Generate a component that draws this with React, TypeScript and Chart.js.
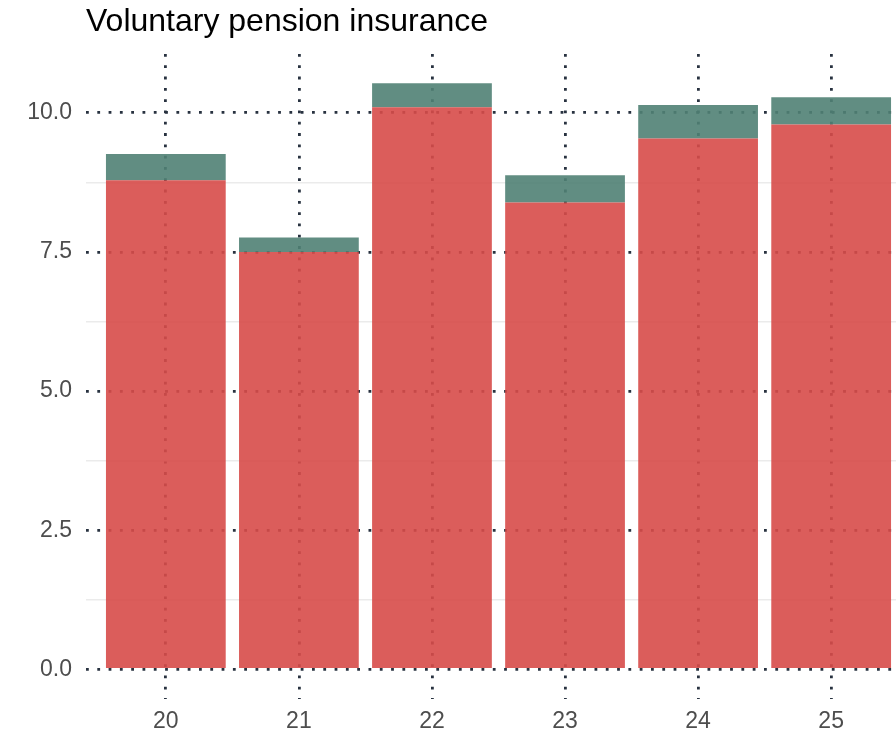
import React, { useEffect, useRef } from 'react';
import { Chart, registerables } from 'chart.js';

Chart.register(...registerables);

const title = 'Voluntary pension insurance';
const categories = [20, 21, 22, 23, 24, 25];
const baseValues = [8.79, 7.5, 10.1, 8.39, 9.54, 9.79];
const topValues = [0.47, 0.26, 0.43, 0.49, 0.6, 0.49];
const yTickLabels = [0, 2.5, 5, 7.5, 10];

const FONT = "'Liberation Sans', Arial, sans-serif";
const DARK = '#283240';
const MINOR = '#ebebeb';
const TICK_COLOR = '#4d4d4d';

export default function App() {
  const ref = useRef<HTMLCanvasElement>(null);

  useEffect(() => {
    const canvas = ref.current;
    if (!canvas) return;
    const chart = new Chart(canvas, {
      type: 'bar',
      data: {
        datasets: [
          {
            data: categories.map((c, i) => ({ x: c, y: baseValues[i] })),
            backgroundColor: 'rgba(215,75,73,0.9)',
            borderWidth: 0,
            categoryPercentage: 1,
            barPercentage: 0.9,
          },
          {
            data: categories.map((c, i) => ({ x: c, y: topValues[i] })),
            backgroundColor: 'rgba(80,129,116,0.9)',
            borderWidth: 0,
            categoryPercentage: 1,
            barPercentage: 0.9,
          },
        ],
      },
      options: {
        responsive: false,
        animation: false,
        devicePixelRatio: 1,
        layout: { padding: { left: 0, right: 1, top: 0, bottom: 0 } },
        plugins: {
          legend: { display: false },
          tooltip: { enabled: false },
          title: {
            display: true,
            text: title,
            align: 'start',
            fullSize: false,
            color: '#000000',
            font: { family: FONT, size: 32, weight: 'normal', lineHeight: 1.2 },
            padding: { top: 3, bottom: 12.6 },
          },
        },
        scales: {
          x: {
            type: 'linear',
            stacked: true,
            offset: false,
            min: 19.4,
            max: 25.6,
            ticks: {
              stepSize: 1,
              includeBounds: false,
              autoSkip: false,
              maxRotation: 0,
              padding: 8.8,
              color: TICK_COLOR,
              font: { family: FONT, size: 23, lineHeight: 1.2 },
              callback: (v: any) => String(v),
            },
            grid: {
              offset: false,
              color: DARK,
              lineWidth: 2.8,
              drawTicks: false,
            },
            border: { display: false, dash: [2.8, 8.5] },
          },
          y: {
            type: 'linear',
            stacked: true,
            min: -0.5265,
            max: 11.0565,
            afterFit: (s: any) => {
              s.width = 86;
            },
            ticks: {
              stepSize: 1.25,
              includeBounds: false,
              autoSkip: false,
              padding: 14,
              color: TICK_COLOR,
              font: { family: FONT, size: 23, lineHeight: 1.2 },
              callback: (v: any) => (yTickLabels.includes(Number(v)) ? Number(v).toFixed(1) : ''),
            },
            grid: {
              color: (ctx: any) => (yTickLabels.includes(ctx.tick?.value) ? DARK : MINOR),
              lineWidth: (ctx: any) => (yTickLabels.includes(ctx.tick?.value) ? 2.8 : 1.4),
              drawTicks: false,
            },
            border: {
              display: false,
              dash: (ctx: any) => (yTickLabels.includes(ctx.tick?.value) ? [2.8, 8.5] : []),
            },
          },
        },
      },
    } as any);
    return () => chart.destroy();
  }, []);

  return (
    <div
      style={{
        position: 'absolute',
        left: 0,
        top: 0,
        width: 896,
        height: 734,
        overflow: 'hidden',
        background: '#ffffff',
      }}
    >
      <canvas ref={ref} width={912} height={744} style={{ display: 'block' }} />
    </div>
  );
}
